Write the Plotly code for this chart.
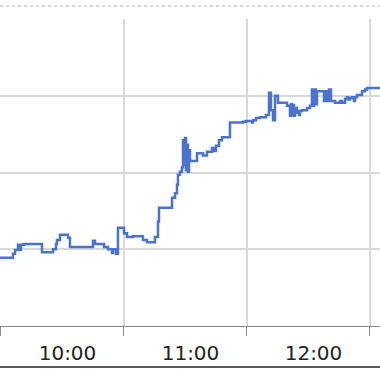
import plotly.graph_objects as go

# Step series: time of each change and the value from then on
times = [
    "09:54:38", "10:05:51", "10:06:50", "10:08:18", "10:09:16", "10:09:45", "10:11:13",
    "10:20:00", "10:25:22", "10:26:50", "10:27:19", "10:28:47", "10:32:41", "10:33:39",
    "10:44:53", "10:45:51", "10:48:18", "10:50:15", "10:52:12", "10:54:09", "10:54:38",
    "10:56:06", "10:57:04", "11:00:00", "11:01:28", "11:04:23", "11:09:16", "11:11:13",
    "11:15:07", "11:16:35", "11:17:04", "11:23:25", "11:24:53", "11:25:51", "11:26:20",
    "11:27:19", "11:28:17", "11:28:47", "11:29:16", "11:29:45", "11:30:15", "11:30:44",
    "11:31:13", "11:31:42", "11:32:12", "11:35:37", "11:38:32", "11:40:29", "11:42:56",
    "11:43:54", "11:44:53", "11:46:20", "11:47:48", "11:51:42", "11:58:03", "11:59:31",
    "12:02:26", "12:02:56", "12:04:23", "12:06:20", "12:09:16", "12:10:44", "12:11:42",
    "12:12:41", "12:13:40", "12:15:07", "12:19:31", "12:20:58", "12:21:28", "12:21:57",
    "12:22:26", "12:22:55", "12:23:25", "12:24:23", "12:24:53", "12:25:22", "12:25:51",
    "12:26:50", "12:29:16", "12:30:44", "12:31:42", "12:32:12", "12:32:41", "12:33:39",
    "12:34:09", "12:37:04", "12:37:34", "12:38:03", "12:39:01", "12:40:00", "12:40:58",
    "12:41:28", "12:42:56", "12:45:22", "12:46:20", "12:47:48", "12:48:47", "12:49:16",
    "12:50:14", "12:51:13", "12:52:12", "12:52:41", "12:53:39", "12:56:06", "12:57:34",
    "12:58:32", "13:07:19",
]
values = [
    100.89, 100.94, 100.99, 101.06, 100.99, 101.06, 101.07,
    100.96, 101.00, 101.07, 101.12, 101.19, 101.15, 101.03,
    101.11, 101.07, 101.07, 101.03, 101.00, 100.95, 101.00,
    100.94, 101.28, 101.21, 101.16, 101.17, 101.12, 101.09,
    101.16, 101.36, 101.54, 101.67, 101.73, 101.84, 101.97,
    102.01, 102.07, 102.42, 102.10, 102.45, 102.03, 102.36,
    102.01, 102.29, 102.15, 102.25, 102.22, 102.27, 102.32,
    102.28, 102.35, 102.42, 102.46, 102.65, 102.66, 102.67,
    102.65, 102.68, 102.71, 102.72, 102.75, 103.04, 102.81,
    102.68, 103.00, 102.91, 102.87, 102.74, 102.89, 102.75,
    102.88, 102.74, 102.84, 102.78, 102.80, 102.75, 102.80,
    102.81, 102.84, 102.87, 103.08, 102.87, 103.08, 102.89,
    103.06, 103.06, 102.93, 103.06, 102.93, 103.08, 102.93,
    102.93, 102.91, 102.93, 102.91, 102.96, 102.98, 102.95,
    102.97, 102.98, 102.93, 102.98, 103.01, 103.06, 103.08,
    103.10, 103.10,
]
day = "2024-01-15 "
x_start, x_end = "09:59:31", "13:04:53"
y_min, y_max = 100, 104

fig = go.Figure(go.Scatter(
    x=[day + t for t in times], y=values, mode="lines",
    line=dict(color="#4a72d0", width=2.5, shape="hv"),
    hoverinfo="skip",
))

fig.update_layout(
    width=380, height=372,
    margin=dict(l=0, r=0, t=19, b=46),
    paper_bgcolor="white", plot_bgcolor="white",
    showlegend=False,
    font=dict(family="DejaVu Sans, Verdana, sans-serif", color="#222222"),
    xaxis=dict(
        type="date", range=[day + x_start, day + x_end],
        tick0=day + "10:00:00", dtick=3600000, tickformat="%H:00",
        ticklabelmode="period", ticklabelshift=5,
        ticks="outside", ticklen=9, tickcolor="#8c8c8c", tickwidth=1,
        showline=True, linecolor="#8c8c8c", linewidth=1,
        showgrid=True, gridcolor="#d8d8d8", gridwidth=1.5,
        tickfont=dict(size=20, color="#222222"), zeroline=False,
    ),
    yaxis=dict(
        range=[y_min, y_max], dtick=1, showticklabels=False,
        showgrid=True, gridcolor="#d8d8d8", gridwidth=1.5, zeroline=False,
    ),
    shapes=[
        dict(type="line", xref="paper", yref="paper", x0=0, x1=1,
             y0=1.0423, y1=1.0423, line=dict(color="#b0b0b0", width=1, dash="dot")),
        dict(type="line", xref="paper", yref="paper", x0=0, x1=1,
             y0=-0.1336, y1=-0.1336, line=dict(color="#5a5a5a", width=2)),
    ],
)

fig.write_html("out.html")
